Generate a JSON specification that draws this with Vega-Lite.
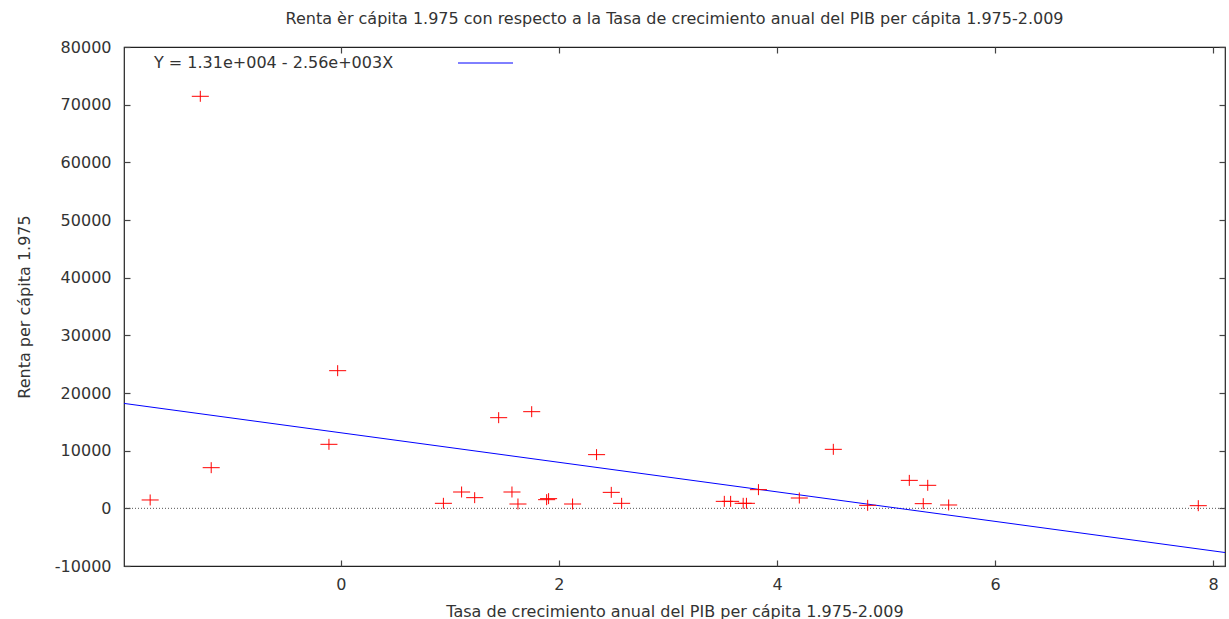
{
  "$schema": "https://vega.github.io/schema/vega-lite/v6.json",
  "width": 1101,
  "height": 519,
  "autosize": {"type": "none"},
  "padding": {"left": 124, "top": 47, "right": 4, "bottom": 53},
  "background": "white",
  "title": {
    "text": "Renta èr cápita 1.975 con respecto a la Tasa de crecimiento anual del PIB per cápita 1.975-2.009",
    "font": "DejaVu Sans",
    "fontSize": 16,
    "fontWeight": "normal",
    "color": "#333333",
    "anchor": "middle",
    "offset": 12
  },
  "config": {
    "view": {"stroke": "#222222", "strokeWidth": 1.2},
    "axis": {
      "grid": false,
      "domain": false,
      "tickColor": "#444444",
      "tickWidth": 1.2,
      "labelFont": "DejaVu Sans",
      "labelFontSize": 16,
      "labelColor": "#333333",
      "titleFont": "DejaVu Sans",
      "titleFontSize": 16,
      "titleFontWeight": "normal",
      "titleColor": "#333333"
    },
    "legend": {
      "labelFont": "DejaVu Sans",
      "labelFontSize": 16,
      "labelColor": "#333333"
    }
  },
  "datasets": {
    "puntos": [
      {"tasa": -1.75, "renta": 1450},
      {"tasa": -1.29, "renta": 71450},
      {"tasa": -1.19, "renta": 7050},
      {"tasa": -0.11, "renta": 11100},
      {"tasa": -0.03, "renta": 23870},
      {"tasa": 0.94, "renta": 870},
      {"tasa": 1.107, "renta": 2830},
      {"tasa": 1.227, "renta": 1850},
      {"tasa": 1.447, "renta": 15720},
      {"tasa": 1.569, "renta": 2830},
      {"tasa": 1.624, "renta": 750},
      {"tasa": 1.75, "renta": 16760},
      {"tasa": 1.887, "renta": 1500},
      {"tasa": 1.905, "renta": 1680},
      {"tasa": 2.125, "renta": 750},
      {"tasa": 2.345, "renta": 9310},
      {"tasa": 2.48, "renta": 2770},
      {"tasa": 2.575, "renta": 870},
      {"tasa": 3.517, "renta": 1210},
      {"tasa": 3.575, "renta": 1210},
      {"tasa": 3.69, "renta": 870},
      {"tasa": 3.72, "renta": 870},
      {"tasa": 3.83, "renta": 3240},
      {"tasa": 4.205, "renta": 1790},
      {"tasa": 4.517, "renta": 10230},
      {"tasa": 4.832, "renta": 520},
      {"tasa": 5.214, "renta": 4850},
      {"tasa": 5.383, "renta": 3990},
      {"tasa": 5.342, "renta": 810},
      {"tasa": 5.575, "renta": 580},
      {"tasa": 7.865, "renta": 460}
    ],
    "ajuste": [
      {"tasa": -1.99, "renta": 18194, "serie": "Y = 1.31e+004 - 2.56e+003X"},
      {"tasa": 8.11, "renta": -7662, "serie": "Y = 1.31e+004 - 2.56e+003X"}
    ],
    "cero": [
      {"renta": 0}
    ]
  },
  "layer": [
    {
      "data": {"name": "cero"},
      "mark": {"type": "rule", "color": "#555555", "strokeDash": [1, 2], "strokeWidth": 1},
      "encoding": {
        "y": {"field": "renta", "type": "quantitative", "scale": {"domain": [-10000, 80000], "nice": false, "zero": false}, "axis": null}
      }
    },
    {
      "data": {"name": "ajuste"},
      "mark": {"type": "line", "strokeWidth": 1, "clip": true},
      "encoding": {
        "x": {
          "field": "tasa", "type": "quantitative",
          "scale": {"domain": [-1.99, 8.11], "nice": false, "zero": false},
          "axis": {"orient": "top", "values": [0, 2, 4, 6, 8], "labels": false, "title": null, "tickSize": -6}
        },
        "y": {
          "field": "renta", "type": "quantitative",
          "scale": {"domain": [-10000, 80000], "nice": false, "zero": false},
          "axis": {"orient": "right", "values": [-10000, 0, 10000, 20000, 30000, 40000, 50000, 60000, 70000, 80000], "labels": false, "title": null, "tickSize": -6}
        },
        "color": {
          "field": "serie", "type": "nominal",
          "scale": {"range": ["#0000ff"]},
          "legend": {
            "title": null,
            "orient": "none",
            "legendX": 14,
            "legendY": 8,
            "padding": 0,
            "symbolType": "M312,0H367",
            "symbolSize": 4,
            "symbolStrokeWidth": 1,
            "labelOffset": 0,
            "labelLimit": 0
          }
        }
      }
    },
    {
      "data": {"name": "puntos"},
      "mark": {
        "type": "point",
        "shape": "M-1.55,0H1.55M0,-1V1",
        "size": 121,
        "filled": false,
        "stroke": "#ff0000",
        "strokeWidth": 1,
        "opacity": 1
      },
      "encoding": {
        "x": {
          "field": "tasa", "type": "quantitative",
          "scale": {"domain": [-1.99, 8.11], "nice": false, "zero": false},
          "axis": {"orient": "bottom", "values": [0, 2, 4, 6, 8], "format": "d", "tickSize": -6, "labelPadding": 16, "title": "Tasa de crecimiento anual del PIB per cápita 1.975-2.009", "titlePadding": 11}
        },
        "y": {
          "field": "renta", "type": "quantitative",
          "scale": {"domain": [-10000, 80000], "nice": false, "zero": false},
          "axis": {"orient": "left", "values": [-10000, 0, 10000, 20000, 30000, 40000, 50000, 60000, 70000, 80000], "labelExpr": "datum.value < 0 ? '-' + format(-datum.value, 'd') : format(datum.value, 'd')", "tickSize": -6, "labelPadding": 19, "title": "Renta per cápita 1.975", "titlePadding": 22}
        }
      }
    }
  ],
  "resolve": {"axis": {"x": "independent", "y": "independent"}}
}
